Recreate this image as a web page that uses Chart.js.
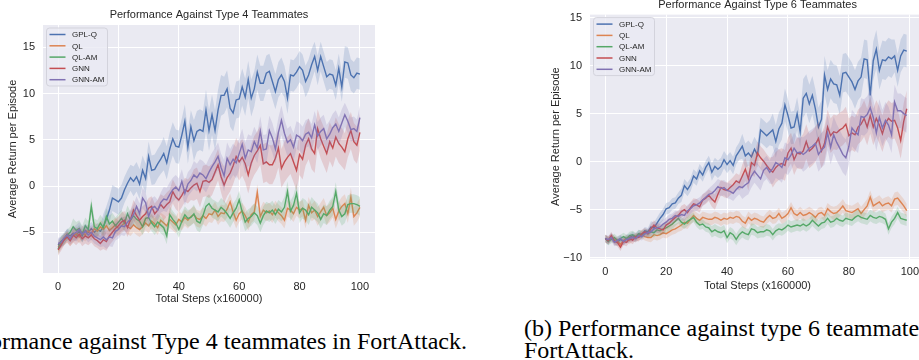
<!DOCTYPE html>
<html>
<head>
<meta charset="utf-8">
<script src="https://cdn.jsdelivr.net/npm/chart.js@4.4.1/dist/chart.umd.min.js"></script>
<style>
  html, body { margin: 0; padding: 0; background: #fff; width: 919px; height: 360px; overflow: hidden; position: relative; }
  canvas { position: absolute; top: 0; }
  #c4 { left: 0; }
  #c6 { left: 520px; }
  .cap { position: absolute; font-family: "Liberation Serif", "Times New Roman", serif; font-size: 24px; line-height: 22px; color: #000; white-space: nowrap; }
  #capA { right: 452px; top: 330px; }
  #capB { left: 524px; top: 317px; }
</style>
</head>
<body>
<canvas id="c4" width="480" height="310"></canvas>
<canvas id="c6" width="406" height="310"></canvas>
<div class="cap" id="capA">(a) Performance against Type 4 teammates in FortAttack.</div>
<div class="cap" id="capB">(b) Performance against type 6 teammates in<br>FortAttack.</div>
<script>
const series = ['GPL-Q', 'QL', 'QL-AM', 'GNN', 'GNN-AM'];
const colors = ['#4c72b0', '#dd8452', '#55a868', '#c44e52', '#8172b3'];
const xTicks = [0, 20, 40, 60, 80, 100];
const yTicks4 = [-5, 0, 5, 10, 15];
const yTicks6 = [-10, -5, 0, 5, 10, 15];

// type 4 teammates, mean return per step 0..100
const gplq4 = [-6.4,-6.0,-5.8,-5.2,-5.4,-5.1,-5.3,-4.9,-5.4,-4.8,
  -5.0,-4.6,-5.0,-4.7,-4.9,-4.4,-3.6,-2.6,-1.3,-1.5,
  -1.7,-1.3,-0.4,0.3,0.9,0.5,1.0,0.2,1.7,0.8,
  3.2,1.7,1.8,2.4,2.9,3.5,2.5,4.0,5.1,4.3,
  4.2,5.5,7.0,4.2,6.4,4.9,5.9,6.1,5.9,8.2,
  6.0,7.7,6.0,8.2,9.8,9.8,10.5,8.4,7.9,9.3,
  9.4,10.7,9.6,11.5,9.5,10.5,12.3,11.1,11.1,12.2,
  12.4,11.3,10.2,11.5,12.0,11.3,9.5,12.0,11.9,12.3,
  12.9,12.5,11.3,12.0,13.1,14.0,12.5,14.0,12.9,11.8,
  12.1,12.0,10.9,12.7,10.7,13.4,13.3,12.0,11.7,12.2,
  12.1];
const ql4 = [-6.6,-6.2,-5.8,-5.5,-5.9,-5.4,-5.1,-5.5,-5.0,-5.3,
  -4.8,-5.2,-4.6,-4.9,-4.4,-4.7,-4.3,-4.8,-4.5,-4.2,
  -4.6,-4.3,-4.0,-4.4,-4.6,-4.2,-4.5,-4.7,-4.4,-4.0,
  -4.3,-3.8,-4.1,-4.5,-3.7,-4.0,-4.3,-3.6,-3.9,-4.2,
  -3.6,-3.9,-3.4,-3.7,-3.3,-3.1,-3.5,-3.6,-3.2,-3.5,
  -3.0,-3.1,-2.6,-3.3,-2.9,-3.0,-2.5,-1.7,-2.8,-3.7,
  -3.0,-2.7,-3.2,-3.9,-3.1,-2.8,-0.7,-3.3,-2.6,-2.9,
  -2.7,-3.1,-2.5,-2.9,-3.2,-3.7,-2.4,-2.6,-3.0,-2.3,
  -2.6,-2.4,-3.7,-2.1,-2.9,-2.6,-3.3,-2.8,-2.3,-3.2,
  -2.9,-2.4,-3.6,-2.7,-2.2,-1.9,-3.0,-1.2,-3.3,-2.9,
  -2.3];
const qlam4 = [-6.8,-6.0,-5.7,-5.3,-5.0,-4.4,-4.8,-4.6,-5.2,-4.3,
  -4.7,-2.2,-4.4,-4.6,-4.0,-4.5,-3.3,-4.1,-3.8,-4.3,
  -3.9,-3.5,-4.0,-3.0,-3.7,-3.2,-3.6,-3.8,-4.4,-3.5,
  -3.4,-4.0,-4.4,-3.9,-4.2,-4.5,-5.4,-3.1,-3.6,-4.0,
  -4.7,-3.8,-3.1,-3.5,-3.4,-3.0,-3.8,-4.0,-3.2,-2.2,
  -1.9,-2.4,-2.6,-2.8,-2.3,-2.6,-3.0,-3.5,-2.9,-2.4,
  -1.5,-2.8,-3.9,-3.5,-3.3,-2.9,-3.2,-4.0,-3.2,-2.7,
  -2.9,-2.6,-3.1,-2.5,-2.8,-2.3,-0.6,-2.7,-2.1,-0.8,
  -2.9,-2.4,-2.6,-3.1,-2.3,-2.6,-2.9,-3.6,-3.0,-3.2,
  -2.6,-2.2,-0.6,-2.6,-3.3,-3.0,-2.0,-1.9,-1.9,-2.0,
  -2.2];
const gnn4 = [-6.9,-6.4,-5.8,-5.5,-5.9,-5.3,-5.6,-5.2,-5.7,-5.4,
  -5.6,-5.3,-5.7,-5.9,-6.2,-5.8,-6.0,-5.4,-5.0,-4.6,
  -4.3,-3.9,-3.7,-4.5,-3.6,-2.6,-3.2,-3.7,-3.3,-3.0,
  -2.4,-2.2,-3.0,-2.6,-2.0,-2.4,-2.0,-1.7,-0.6,-1.2,
  -1.5,-1.0,-0.4,-0.6,-0.2,0.1,0.3,-0.6,0.5,0.6,
  0.4,0.7,1.5,2.3,1.0,0.1,0.9,1.4,2.2,3.2,
  2.6,3.1,2.4,1.2,2.5,3.3,3.8,4.4,2.4,2.6,
  2.3,2.3,3.0,4.1,1.9,2.6,3.1,3.5,2.6,1.7,
  3.4,2.9,4.4,5.1,4.0,3.5,6.2,5.1,4.3,3.5,
  4.8,4.1,5.3,4.6,4.2,3.7,5.1,6.0,4.8,4.4,
  5.8];
const gnnam4 = [-6.2,-6.1,-5.6,-5.3,-5.7,-5.2,-5.0,-4.7,-5.2,-4.9,
  -5.3,-5.0,-5.4,-5.6,-5.8,-5.5,-5.8,-5.5,-5.6,-4.9,
  -4.7,-4.3,-4.4,-3.9,-3.6,-3.1,-2.2,-3.0,-1.3,-1.8,
  -3.3,-2.4,-2.2,-2.6,-1.8,-1.4,-1.5,-0.9,-0.4,-0.1,
  -0.5,0.5,-0.8,0.2,0.6,1.2,0.9,1.4,1.2,0.8,
  1.5,2.1,2.6,3.2,2.0,1.1,3.0,2.3,2.9,2.5,
  3.5,4.5,3.0,3.9,3.7,4.8,4.1,5.9,3.9,4.0,
  6.0,5.2,4.0,5.8,7.1,5.7,4.7,5.0,4.2,5.5,
  5.3,4.9,5.6,5.8,5.2,6.6,5.4,5.9,6.2,5.1,
  5.6,6.3,6.7,5.9,6.8,7.7,7.0,6.1,6.2,5.9,
  7.4];

// type 4 band half-width, one value per 10 steps
const gplq4Spread = [0.6, 0.7, 1.4, 1.6, 1.8, 2.2, 2.0, 1.9, 1.7, 1.6, 1.7];
const ql4Spread = [0.6, 0.7, 0.8, 0.8, 0.9, 0.9, 0.9, 0.9, 0.9, 1.0, 1.0];
const qlam4Spread = [0.6, 0.9, 0.9, 0.9, 0.9, 1.0, 1.0, 1.0, 1.1, 1.0, 1.0];
const gnn4Spread = [0.6, 0.8, 1.0, 1.1, 1.3, 1.7, 2.0, 2.1, 2.2, 2.1, 2.0];
const gnnam4Spread = [0.6, 0.8, 1.0, 1.1, 1.3, 1.5, 1.7, 1.6, 1.5, 1.5, 1.3];

// type 6 teammates, mean return per step 0..99
const gplq6 = [-8.0,-8.3,-7.8,-8.2,-8.4,-8.1,-8.3,-8.0,-7.9,-7.7,
  -7.9,-7.5,-7.6,-7.2,-7.3,-6.8,-6.9,-6.4,-5.9,-5.5,
  -4.9,-4.8,-4.4,-4.3,-3.8,-3.5,-2.5,-2.9,-2.4,-1.5,
  -1.8,-0.95,-1.4,-0.6,-0.1,-1.1,-0.5,-0.8,-0.5,0.2,
  -0.3,0.1,-0.4,0.6,1.1,1.6,0.6,0.9,0.5,1.3,
  0.7,3.3,3.0,2.7,3.0,3.3,2.1,3.4,4.0,5.9,
  4.8,3.5,3.6,5.0,3.1,6.6,7.1,6.0,6.9,5.5,
  3.6,4.4,9.0,7.5,8.6,8.1,8.0,6.9,9.2,9.3,
  8.8,8.3,7.5,8.4,8.8,10.7,10.6,6.9,10.5,11.7,
  9.5,10.6,10.5,10.9,10.7,11.0,9.5,11.0,11.6,11.5];
const ql6 = [-8.0,-8.2,-7.9,-8.1,-8.3,-8.6,-8.2,-8.0,-8.2,-7.9,
  -8.0,-7.8,-7.6,-7.8,-7.9,-7.9,-7.6,-7.7,-7.6,-7.4,
  -7.5,-7.3,-7.1,-7.0,-6.8,-6.6,-6.3,-6.4,-6.0,-5.6,
  -5.9,-6.1,-5.8,-5.9,-6.0,-6.0,-5.8,-5.9,-6.1,-5.9,
  -6.0,-5.8,-5.9,-5.7,-5.8,-6.2,-6.4,-5.8,-6.1,-5.9,
  -6.0,-6.2,-6.3,-5.9,-5.6,-5.9,-5.8,-5.4,-5.9,-5.7,
  -5.4,-4.8,-5.4,-5.6,-5.3,-5.6,-5.5,-5.3,-5.5,-5.8,
  -5.4,-5.3,-5.6,-4.9,-5.2,-5.4,-5.3,-5.0,-4.6,-5.1,
  -5.2,-5.3,-5.1,-4.9,-5.4,-5.0,-4.6,-3.7,-4.6,-4.4,
  -4.2,-4.6,-4.4,-4.3,-4.6,-3.9,-3.8,-4.2,-4.6,-5.1];
const qlam6 = [-8.0,-8.3,-8.1,-7.9,-8.2,-8.0,-7.8,-8.0,-7.7,-7.6,
  -7.8,-7.5,-7.6,-7.4,-7.5,-7.3,-7.4,-7.1,-7.2,-7.0,
  -6.9,-6.7,-6.5,-6.2,-5.9,-6.3,-6.5,-6.2,-6.0,-5.8,
  -6.3,-6.6,-6.5,-6.8,-6.9,-7.3,-7.1,-7.3,-7.4,-7.2,
  -7.9,-7.4,-7.6,-8.1,-7.6,-7.3,-7.5,-7.6,-7.0,-7.1,
  -7.4,-7.3,-7.3,-7.1,-7.2,-7.6,-7.2,-7.0,-7.1,-6.9,
  -6.6,-6.8,-6.7,-6.6,-6.7,-6.5,-6.7,-6.5,-6.1,-6.4,
  -6.7,-6.4,-6.3,-5.9,-6.3,-6.2,-5.9,-6.1,-6.2,-5.9,
  -6.0,-6.1,-5.8,-5.6,-5.8,-5.9,-6.0,-5.6,-5.8,-5.9,
  -5.7,-5.8,-6.0,-7.0,-6.3,-5.9,-5.3,-5.9,-6.0,-6.1];
const gnn6 = [-8.0,-8.2,-7.7,-8.3,-8.4,-8.9,-8.3,-8.4,-8.0,-8.2,
  -7.8,-7.9,-7.5,-7.3,-7.5,-7.0,-6.6,-6.9,-7.0,-7.1,
  -6.6,-6.4,-6.1,-5.8,-5.6,-5.2,-5.0,-5.3,-4.8,-4.4,
  -4.5,-4.7,-4.0,-3.8,-3.5,-3.9,-4.2,-3.4,-2.7,-2.9,
  -3.0,-2.7,-2.4,-2.0,-2.2,-1.5,-0.8,-1.8,-0.1,-0.4,
  0.9,0.4,0.05,-0.4,-0.8,-1.1,-0.6,-0.3,-0.2,-0.4,
  0.9,1.4,0.2,0.9,0.8,1.1,2.1,1.1,1.4,1.8,
  2.4,1.1,1.9,3.6,2.7,3.1,3.0,3.3,3.5,3.9,
  2.7,3.0,2.8,3.6,3.9,4.5,3.6,4.8,3.6,4.5,
  3.8,2.9,4.0,4.5,4.2,4.3,3.5,2.2,4.2,5.5];
const gnnam6 = [-8.0,-8.1,-7.9,-8.4,-8.2,-8.0,-8.3,-8.1,-8.0,-7.9,
  -8.0,-7.7,-7.8,-7.5,-7.4,-7.3,-7.0,-6.9,-6.8,-6.5,
  -6.3,-6.0,-5.9,-5.6,-5.7,-5.5,-5.6,-5.1,-4.9,-4.6,
  -4.5,-4.3,-4.0,-3.7,-3.4,-3.3,-3.0,-2.6,-2.8,-2.7,
  -3.0,-3.1,-3.3,-2.9,-2.6,-2.7,-2.4,-2.2,-1.5,-1.0,
  -1.4,-1.8,-0.9,-0.6,-1.1,-0.7,-0.1,-0.3,-0.6,0.4,
  0.2,0.7,1.4,0.9,1.0,0.75,1.0,1.4,1.6,1.9,
  0.75,1.2,1.5,3.0,1.5,2.8,2.0,1.4,0.75,0.4,
  1.6,3.5,3.1,2.8,4.7,4.6,4.9,5.6,4.6,3.0,
  4.6,3.5,4.3,3.8,2.8,6.2,5.3,5.3,5.0,4.8];

// type 6 band half-width, one value per 10 steps
const gplq6Spread = [0.4, 0.4, 0.6, 0.7, 0.9, 1.3, 1.7, 2.0, 2.0, 2.0, 1.7];
const ql6Spread = [0.4, 0.4, 0.5, 0.6, 0.6, 0.6, 0.6, 0.6, 0.7, 0.7, 0.7];
const qlam6Spread = [0.4, 0.4, 0.5, 0.5, 0.6, 0.6, 0.6, 0.6, 0.6, 0.6, 0.6];
const gnn6Spread = [0.4, 0.4, 0.5, 0.6, 0.8, 1.2, 1.6, 1.8, 1.8, 1.9, 1.9];
const gnnam6Spread = [0.4, 0.4, 0.5, 0.6, 0.8, 1.2, 1.6, 1.8, 1.9, 1.9, 1.8];

const FONT = '"Liberation Sans", Arial, sans-serif';
const INK = '#262626';

function alpha(hex, a) {
  const n = parseInt(hex.slice(1), 16);
  return `rgba(${n >> 16}, ${(n >> 8) & 255}, ${n & 255}, ${a})`;
}

function fmt(v) {
  return v < 0 ? '\u2212' + Math.abs(v) : String(v);
}

// upper edge, lower edge (filled to upper) and the mean line for each series
function buildSets(means, spreads) {
  const sets = [];
  means.forEach((m, i) => {
    const base = (means.length - 1 - i) * 3;
    const sp = spreads[i];
    sets.push({
      data: m.map((v, t) => ({ x: t, y: v + sp[Math.round(t / 10)] })),
      borderWidth: 0, pointRadius: 0, fill: false, order: base + 2
    });
    sets.push({
      data: m.map((v, t) => ({ x: t, y: v - sp[Math.round(t / 10)] })),
      borderWidth: 0, pointRadius: 0, fill: sets.length - 1,
      backgroundColor: alpha(colors[i], 0.2), order: base + 1
    });
    sets.push({
      data: m.map((v, t) => ({ x: t, y: v })),
      borderColor: colors[i], borderWidth: 1.4, pointRadius: 0, fill: false, order: base
    });
  });
  return sets;
}

const panel = {
  id: 'panel',
  beforeDraw(chart) {
    const a = chart.chartArea, ctx = chart.ctx;
    ctx.save();
    ctx.fillStyle = '#eaeaf2';
    ctx.fillRect(a.left, a.top, a.right - a.left, a.bottom - a.top);
    ctx.restore();
  },
  afterDraw(chart, args, opts) {
    const a = chart.chartArea, ctx = chart.ctx;
    ctx.save();
    ctx.fillStyle = INK;
    ctx.font = '11px ' + FONT;
    ctx.textAlign = 'center';
    ctx.textBaseline = 'middle';
    ctx.fillText(opts.title, (a.left + a.right) / 2, a.top - 10);

    // legend box
    const bx = a.left + 3.5, by = a.top + 3, bw = 61, bh = 58;
    ctx.beginPath();
    ctx.roundRect(bx, by, bw, bh, 3);
    ctx.fillStyle = 'rgba(234, 234, 242, 0.8)';
    ctx.fill();
    ctx.strokeStyle = '#d3d3dc';
    ctx.lineWidth = 1;
    ctx.stroke();
    ctx.font = '8px ' + FONT;
    ctx.textAlign = 'left';
    series.forEach((name, i) => {
      const y = by + 6.5 + i * 11.3;
      ctx.strokeStyle = colors[i];
      ctx.lineWidth = 1.5;
      ctx.beginPath();
      ctx.moveTo(bx + 3, y);
      ctx.lineTo(bx + 19, y);
      ctx.stroke();
      ctx.fillStyle = INK;
      ctx.fillText(name, bx + 25.5, y + 0.5);
    });
    ctx.restore();
  }
};

function makeChart(id, means, spreads, o) {
  return new Chart(document.getElementById(id), {
    type: 'line',
    data: { datasets: buildSets(means, spreads) },
    plugins: [panel],
    options: {
      responsive: false,
      animation: false,
      devicePixelRatio: 1,
      layout: { padding: { top: o.top, right: o.right, left: 0, bottom: 0 } },
      plugins: {
        legend: { display: false },
        tooltip: { enabled: false },
        panel: { title: o.title }
      },
      scales: {
        x: {
          type: 'linear', min: -5, max: 105,
          afterBuildTicks: s => { s.ticks = xTicks.map(v => ({ value: v })); },
          afterFit: s => { s.height = o.xh; },
          grid: { color: '#ffffff', lineWidth: 1, drawTicks: false },
          border: { display: false },
          ticks: { padding: 7, autoSkip: false, maxRotation: 0, color: INK, font: { family: FONT, size: 11 }, callback: fmt },
          title: { display: true, text: 'Total Steps (x160000)', color: INK, font: { family: FONT, size: 11 }, padding: { top: 0, bottom: o.xtp } }
        },
        y: {
          type: 'linear', min: o.ymin, max: o.ymax,
          afterBuildTicks: s => { s.ticks = o.yTicks.map(v => ({ value: v })); },
          afterFit: s => { s.width = o.yw; },
          grid: { color: '#ffffff', lineWidth: 1, drawTicks: false },
          border: { display: false },
          ticks: { padding: 8, autoSkip: false, color: INK, font: { family: FONT, size: 11 }, callback: fmt },
          title: { display: true, text: 'Average Return per Episode', color: INK, font: { family: FONT, size: 11 }, padding: { top: o.ytp, bottom: 0 } }
        }
      }
    }
  });
}

makeChart('c4',
  [gplq4, ql4, qlam4, gnn4, gnnam4],
  [gplq4Spread, ql4Spread, qlam4Spread, gnn4Spread, gnnam4Spread],
  { title: 'Performance Against Type 4 Teammates', top: 25, right: 105, xh: 37, yw: 43,
    xtp: 4.5, ytp: 6.4, ymin: -9.4, ymax: 17.4, yTicks: yTicks4 });

makeChart('c6',
  [gplq6, ql6, qlam6, gnn6, gnnam6],
  [gplq6Spread, ql6Spread, qlam6Spread, gnn6Spread, gnnam6Spread],
  { title: 'Performance Against Type 6 Teammates', top: 12, right: 0, xh: 51.3, yw: 70,
    xtp: 17.4, ytp: 29, ymin: -10.1, ymax: 15.3, yTicks: yTicks6 });
</script>
</body>
</html>
